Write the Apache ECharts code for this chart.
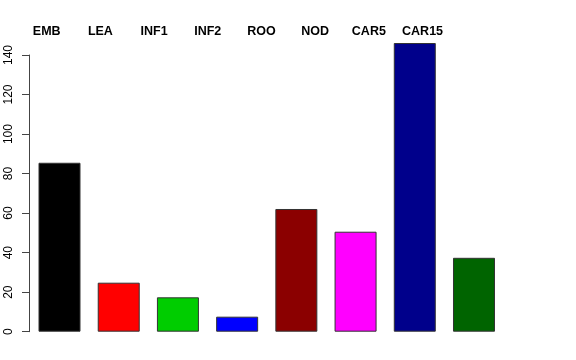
<!DOCTYPE html>
<html><head><meta charset="utf-8">
<script src="https://cdn.jsdelivr.net/npm/echarts@6/dist/echarts.min.js"></script>
<style>html,body{margin:0;padding:0;background:#fff}#c{width:576px;height:360px}</style>
</head><body><div id="c"></div>
<script>
const categories = ['EMB','LEA','INF1','INF2','ROO','NOD','CAR5','CAR15'];
const values = [85.5, 24.8, 17.4, 7.6, 62.1, 50.6, 146.1, 37.4];
const colors = ['#000000','#FF0000','#00CD00','#0000FF','#8B0000','#FF00FF','#00008B','#006400'];
const yTicks = [0,20,40,60,80,100,120,140];

const font = 'Liberation Sans, Arial, Helvetica, sans-serif';
const chart = echarts.init(document.getElementById('c'), null, {renderer:'canvas'});
chart.setOption({
  animation:false,
  backgroundColor:'#ffffff',
  grid:[
    {left:29.9, right:72.4, top:35.3, bottom:28.3},
    {left:29, right:72.4, top:55, bottom:28.3},
    {left:19.85, right:126.6, top:40, bottom:28.3}
  ],
  xAxis:[
    {type:'category', gridIndex:0, data:categories, boundaryGap:true,
     axisLine:{show:false}, axisTick:{show:false}, axisLabel:{show:false}},
    {type:'category', gridIndex:1, data:categories, show:false},
    {type:'category', gridIndex:2, data:categories, position:'top', boundaryGap:true,
     axisLine:{show:false}, axisTick:{show:false},
     axisLabel:{show:true, margin:2, fontFamily:font, fontSize:12.5, fontWeight:'bold', color:'#000'}}
  ],
  yAxis:[
    {type:'value', gridIndex:0, min:0, max:150, show:false},
    {type:'value', gridIndex:1, min:yTicks[0], max:yTicks[yTicks.length-1], interval:20,
     splitLine:{show:false},
     axisLine:{show:true, lineStyle:{color:'#444', width:1}},
     axisTick:{show:true, length:7, lineStyle:{color:'#444', width:1}},
     axisLabel:{show:true, rotate:90, margin:14, fontFamily:font, fontSize:12, color:'#000'}},
    {type:'value', gridIndex:2, show:false}
  ],
  series:[{
    type:'bar', xAxisIndex:0, yAxisIndex:0, barWidth:42,
    data: values.map((v,i)=>({value:v, itemStyle:{color:colors[i]}})),
    itemStyle:{borderColor:'#333', borderWidth:1}
  }]
});
</script></body></html>
